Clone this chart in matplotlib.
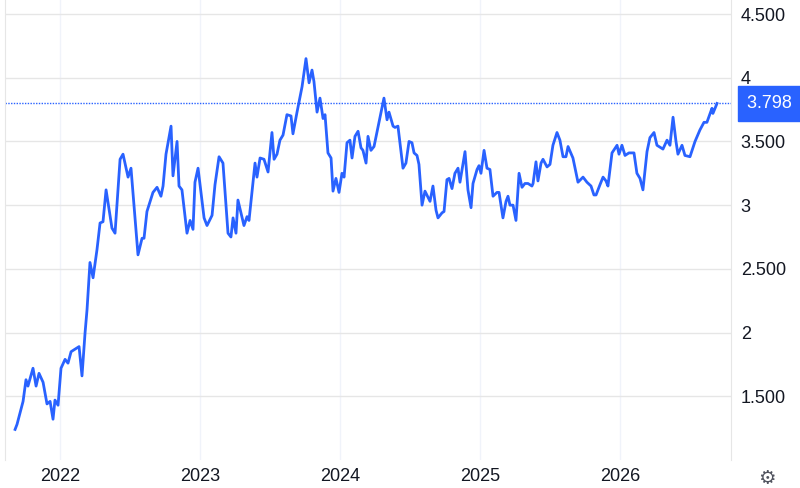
import matplotlib.pyplot as plt

plt.rcParams['font.family'] = ['Liberation Sans', 'DejaVu Sans']

# fractional years and values
years = [2021.679, 2021.693, 2021.736, 2021.757, 2021.771, 2021.807, 2021.829, 2021.850, 2021.879, 2021.907,
         2021.929, 2021.950, 2021.964, 2021.986, 2022.007, 2022.036, 2022.057, 2022.079, 2022.107, 2022.136,
         2022.157, 2022.179, 2022.193, 2022.214, 2022.236, 2022.264, 2022.286, 2022.307, 2022.329, 2022.371,
         2022.393, 2022.429, 2022.450, 2022.486, 2022.507, 2022.557, 2022.586, 2022.600, 2022.621, 2022.664,
         2022.693, 2022.721, 2022.736, 2022.757, 2022.793, 2022.807, 2022.836, 2022.850, 2022.871, 2022.907,
         2022.929, 2022.950, 2022.964, 2022.986, 2023.029, 2023.050, 2023.086, 2023.107, 2023.136, 2023.164,
         2023.200, 2023.221, 2023.236, 2023.257, 2023.271, 2023.314, 2023.336, 2023.350, 2023.393, 2023.407,
         2023.429, 2023.457, 2023.486, 2023.514, 2023.529, 2023.550, 2023.571, 2023.593, 2023.621, 2023.650,
         2023.664, 2023.693, 2023.729, 2023.757, 2023.779, 2023.800, 2023.814, 2023.836, 2023.857, 2023.879,
         2023.893, 2023.914, 2023.936, 2023.950, 2023.971, 2023.993, 2024.014, 2024.029, 2024.050, 2024.071,
         2024.086, 2024.107, 2024.129, 2024.150, 2024.164, 2024.186, 2024.200, 2024.221, 2024.243, 2024.271,
         2024.314, 2024.336, 2024.350, 2024.379, 2024.393, 2024.414, 2024.450, 2024.471, 2024.493, 2024.514,
         2024.529, 2024.550, 2024.564, 2024.586, 2024.607, 2024.643, 2024.664, 2024.686, 2024.700, 2024.729,
         2024.743, 2024.764, 2024.779, 2024.800, 2024.821, 2024.843, 2024.857, 2024.893, 2024.914, 2024.936,
         2024.950, 2024.979, 2024.993, 2025.007, 2025.029, 2025.050, 2025.071, 2025.093, 2025.121, 2025.136,
         2025.164, 2025.186, 2025.200, 2025.214, 2025.236, 2025.257, 2025.279, 2025.300, 2025.321, 2025.343,
         2025.371, 2025.379, 2025.400, 2025.414, 2025.436, 2025.450, 2025.479, 2025.500, 2025.521, 2025.550,
         2025.571, 2025.593, 2025.614, 2025.629, 2025.664, 2025.700, 2025.736, 2025.764, 2025.793, 2025.814,
         2025.829, 2025.857, 2025.879, 2025.900, 2025.914, 2025.943, 2025.979, 2025.993, 2026.014, 2026.036,
         2026.064, 2026.100, 2026.121, 2026.143, 2026.164, 2026.193, 2026.214, 2026.243, 2026.264, 2026.307,
         2026.336, 2026.357, 2026.379, 2026.400, 2026.414, 2026.443, 2026.464, 2026.500, 2026.536, 2026.571,
         2026.600, 2026.621, 2026.657, 2026.664, 2026.693]
values = [1.24, 1.28, 1.46, 1.63, 1.58, 1.72, 1.58, 1.68, 1.61, 1.44,
          1.46, 1.32, 1.47, 1.43, 1.72, 1.79, 1.76, 1.85, 1.87, 1.89,
          1.66, 2.00, 2.18, 2.55, 2.43, 2.65, 2.86, 2.87, 3.12, 2.82,
          2.78, 3.36, 3.40, 3.22, 3.29, 2.61, 2.74, 2.74, 2.95, 3.10,
          3.14, 3.07, 3.15, 3.40, 3.62, 3.23, 3.50, 3.15, 3.12, 2.78,
          2.88, 2.81, 3.18, 3.29, 2.90, 2.84, 2.92, 3.16, 3.38, 3.33,
          2.78, 2.75, 2.90, 2.78, 3.04, 2.84, 2.91, 2.88, 3.33, 3.22,
          3.37, 3.36, 3.26, 3.57, 3.36, 3.40, 3.51, 3.55, 3.71, 3.70,
          3.56, 3.73, 3.93, 4.15, 3.96, 4.06, 3.97, 3.73, 3.84, 3.68,
          3.71, 3.41, 3.37, 3.11, 3.21, 3.10, 3.25, 3.22, 3.49, 3.51,
          3.37, 3.54, 3.58, 3.45, 3.43, 3.33, 3.54, 3.43, 3.46, 3.61,
          3.84, 3.67, 3.73, 3.62, 3.61, 3.62, 3.29, 3.33, 3.50, 3.49,
          3.41, 3.39, 3.32, 3.00, 3.11, 3.03, 3.15, 2.96, 2.90, 2.94,
          2.95, 3.20, 3.21, 3.13, 3.25, 3.29, 3.18, 3.42, 3.12, 2.98,
          3.17, 3.28, 3.31, 3.25, 3.43, 3.29, 3.28, 3.07, 3.10, 3.10,
          2.90, 3.03, 3.07, 3.00, 3.00, 2.88, 3.25, 3.14, 3.17, 3.17,
          3.15, 3.17, 3.34, 3.19, 3.33, 3.36, 3.30, 3.32, 3.47, 3.57,
          3.51, 3.38, 3.38, 3.46, 3.37, 3.18, 3.22, 3.18, 3.15, 3.08,
          3.08, 3.16, 3.22, 3.19, 3.15, 3.41, 3.47, 3.40, 3.47, 3.39,
          3.41, 3.41, 3.25, 3.21, 3.12, 3.42, 3.53, 3.57, 3.47, 3.44,
          3.51, 3.47, 3.69, 3.50, 3.40, 3.47, 3.39, 3.38, 3.50, 3.59,
          3.65, 3.65, 3.76, 3.72, 3.798]
last_value = 3.798

y_ticks = [1.5, 2, 2.5, 3, 3.5, 4, 4.5]
y_labels = ["1.500", "2", "2.500", "3", "3.500", "4", "4.500"]
x_ticks = [2022, 2023, 2024, 2025, 2026]

blue = "#2962ff"
fig = plt.figure(figsize=(8, 4.88), dpi=100)
ax = fig.add_axes([5 / 800, 28 / 488, 726 / 800, 460 / 488])
ax.plot(years, values, color=blue, lw=2)
ax.axhline(last_value, color=blue, lw=1, ls=(0, (1, 1)))

ax.set_xlim(2021.607, 2026.793)
ax.set_ylim(1.0, 4.61)
ax.set_yticks(y_ticks)
ax.set_yticklabels(y_labels)
ax.set_xticks(x_ticks)
ax.set_xticklabels([str(y) for y in x_ticks])
ax.yaxis.tick_right()
ax.tick_params(length=0, labelsize=13, colors="#131722", pad=7)
ax.tick_params(axis="x", pad=6)
ax.grid(axis="y", color="#e6e6e6", lw=1)
ax.grid(axis="x", color="#f0f3fa", lw=1)
for s in ["top", "bottom"]:
    ax.spines[s].set_visible(False)
ax.spines["left"].set_color("#e6e6e6")
ax.spines["right"].set_color("#e6e6e6")

ax.text(1.022, last_value, "3.798 ", transform=ax.get_yaxis_transform(), color="white", fontsize=13,
        va="center", ha="left",
        bbox=dict(boxstyle="square,pad=0.5", fc=blue, ec=blue))
fig.text(767 / 800, 9 / 488, "\u2699", fontsize=14, color="#50535e", ha="center", va="center")

fig.savefig("out.png", dpi=100)
